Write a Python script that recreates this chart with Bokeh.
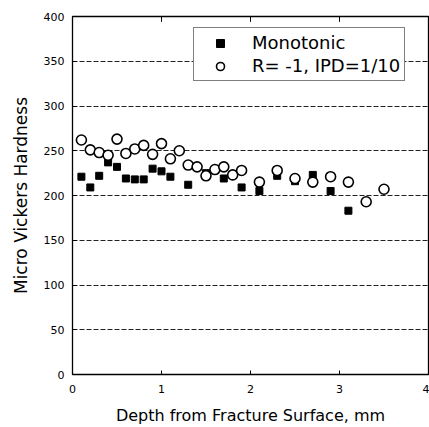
from bokeh.plotting import figure
from bokeh.models import LinearAxis, FixedTicker, Legend, LegendItem
from bokeh.embed import file_html
from bokeh.resources import INLINE

# Data
mono_x = [0.1, 0.2, 0.3, 0.4, 0.5, 0.6, 0.7, 0.8, 0.9, 1.0, 1.1, 1.3, 1.5, 1.7,
          1.9, 2.1, 2.3, 2.5, 2.7, 2.9, 3.1]
mono_y = [221, 209, 222, 237, 232, 219, 218, 218, 230, 227, 221, 212, 225, 219,
          209, 205, 222, 216, 223, 205, 183]

ipd_x = [0.1, 0.2, 0.3, 0.4, 0.5, 0.6, 0.7, 0.8, 0.9, 1.0, 1.1, 1.2, 1.3, 1.4,
         1.5, 1.6, 1.7, 1.8, 1.9, 2.1, 2.3, 2.5, 2.7, 2.9, 3.1, 3.3, 3.5]
ipd_y = [262, 251, 248, 245, 263, 247, 252, 256, 246, 258, 241, 250, 234, 232,
         222, 229, 232, 223, 228, 215, 228, 219, 215, 221, 215, 193, 207]

x_ticks = [0, 1, 2, 3, 4]
y_ticks = [0, 50, 100, 150, 200, 250, 300, 350, 400]

x_label = "Depth from Fracture Surface, mm"
y_label = "Micro Vickers Hardness"
series_names = ["Monotonic", "R= -1, IPD=1/10"]

FONT = "DejaVu Sans"
X_MIN, X_MAX = 0, 4
Y_MIN, Y_MAX = 0, 400

p = figure(width=429, height=427, x_range=(X_MIN, X_MAX), y_range=(Y_MIN, Y_MAX),
           output_backend="svg", toolbar_location=None,
           min_border_left=72, min_border_right=1, min_border_top=16,
           min_border_bottom=52, x_axis_location=None, y_axis_location=None)

p.outline_line_color = "black"
p.outline_line_width = 1.3
p.background_fill_color = "white"
p.border_fill_color = "white"

# axes
xaxis = LinearAxis(ticker=FixedTicker(ticks=x_ticks), axis_label=x_label)
yaxis = LinearAxis(ticker=FixedTicker(ticks=y_ticks), axis_label=y_label)
for ax in (xaxis, yaxis):
    ax.axis_line_color = None
    ax.major_tick_in = 4
    ax.major_tick_out = 0
    ax.minor_tick_line_color = None
    ax.major_tick_line_color = "black"
    ax.major_label_text_font = FONT
    ax.major_label_text_font_size = "11px"
    ax.major_label_text_color = "black"
    ax.axis_label_text_font = FONT
    ax.axis_label_text_font_style = "normal"
    ax.axis_label_text_color = "black"
xaxis.axis_label_text_font_size = "16px"
yaxis.axis_label_text_font_size = "17px"
xaxis.major_label_standoff = 10
xaxis.axis_label_standoff = 10
yaxis.major_label_standoff = 8
yaxis.axis_label_standoff = 10
p.add_layout(xaxis, "below")
p.add_layout(yaxis, "left")

# inward tick marks along the top edge
top_x = x_ticks[1:-1]
p.segment(x0=top_x, y0=[Y_MAX] * len(top_x), x1=top_x,
          y1=[Y_MAX - 6] * len(top_x), line_color="black", line_width=1)

# grid
p.xgrid.visible = False
p.ygrid.ticker = FixedTicker(ticks=y_ticks)
p.ygrid.grid_line_color = "#222222"
p.ygrid.grid_line_dash = "5 2"
p.ygrid.grid_line_width = 1

r1 = p.scatter(mono_x, mono_y, marker="square", size=7, fill_color="black",
               line_color="black", line_width=1)
r2 = p.scatter(ipd_x, ipd_y, marker="circle", size=10, fill_color="white",
               line_color="black", line_width=1.6)

legend = Legend(items=[LegendItem(label=series_names[0], renderers=[r1]),
                       LegendItem(label=series_names[1], renderers=[r2])],
                location=(121, 293))
legend.label_text_font = FONT
legend.label_text_font_size = "18px"
legend.label_text_color = "black"
legend.glyph_width = 44
legend.glyph_height = 20
legend.label_height = 20
legend.label_standoff = 10
legend.padding = 4
legend.spacing = 2
legend.margin = 0
legend.border_line_color = "black"
legend.border_line_width = 1
legend.background_fill_color = "white"
legend.background_fill_alpha = 1
p.add_layout(legend, "center")

open("out.html", "w").write(file_html(p, INLINE))
